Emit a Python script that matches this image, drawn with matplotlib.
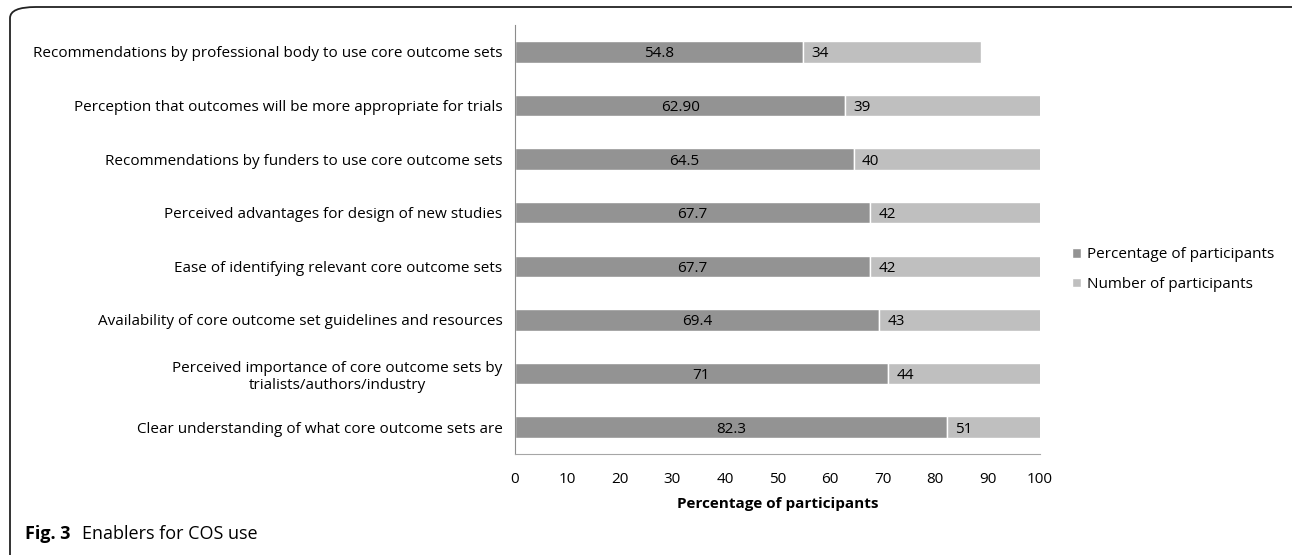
import matplotlib.pyplot as plt
from matplotlib.patches import FancyBboxPatch

plt.rcParams['font.family'] = ['Open Sans', 'DejaVu Sans']

# top to bottom as in the figure
categories = [
    'Recommendations by professional body to use core outcome sets',
    'Perception that outcomes will be more appropriate for trials',
    'Recommendations by funders to use core outcome sets',
    'Perceived advantages for design of new studies',
    'Ease of identifying relevant core outcome sets',
    'Availability of core outcome set guidelines and resources',
    'Perceived importance of core outcome sets by\ntrialists/authors/industry',
    'Clear understanding of what core outcome sets are',
]
percentValues = [54.8, 62.90, 64.5, 67.7, 67.7, 69.4, 71, 82.3]
percentLabels = ['54.8', '62.90', '64.5', '67.7', '67.7', '69.4', '71', '82.3']
numberValues = [34, 39, 40, 42, 42, 43, 44, 51]
xTicks = [0, 10, 20, 30, 40, 50, 60, 70, 80, 90, 100]

darkGrey = '#939393'
lightGrey = '#bfbfbf'
fs = 11

fig = plt.figure(figsize=(12.92, 5.55), dpi=100)
ax = fig.add_axes([515 / 1292, 1 - 454 / 555, 525 / 1292, 429 / 555])

yPos = list(range(len(categories)))
ax.barh(yPos, percentValues, height=0.4, color=darkGrey, edgecolor='white', linewidth=1,
        label='Percentage of participants')
ax.barh(yPos, numberValues, left=percentValues, height=0.4, color=lightGrey, edgecolor='white',
        linewidth=1, label='Number of participants')

for i in range(len(categories)):
    ax.text(percentValues[i] / 2, yPos[i], percentLabels[i], ha='center', va='center_baseline', fontsize=fs)
    ax.text(percentValues[i] + 1.6, yPos[i], str(numberValues[i]), ha='left', va='center_baseline', fontsize=fs)

ax.set_xlim(0, 100)
ax.set_ylim(len(categories) - 0.5, -0.5)
ax.set_yticks(yPos)
ax.set_yticklabels(categories, fontsize=fs, multialignment='center')
ax.set_xticks(xTicks)
ax.tick_params(axis='both', length=0, labelsize=fs)
ax.tick_params(axis='x', pad=13)
ax.tick_params(axis='y', pad=9)
ax.set_xlabel('Percentage of participants', fontsize=fs, fontweight='bold', labelpad=7)

for side in ['top', 'right']:
    ax.spines[side].set_visible(False)
ax.spines['left'].set_color('#8c8c8c')
ax.spines['bottom'].set_color('#a6a6a6')

ax.legend(loc='center left', bbox_to_anchor=(1.035, 0.43), frameon=False, fontsize=fs,
          handlelength=0.6, handleheight=0.6, handletextpad=0.4, labelspacing=0.95)

# rounded frame round the figure
frame = FancyBboxPatch((10 / 1292, -0.05), 1.1, 1 - 7 / 555 + 0.05,
                       boxstyle='round,pad=0,rounding_size=0.02', transform=fig.transFigure,
                       facecolor='none', edgecolor='#222222', linewidth=1.3, clip_on=False)
fig.patches.append(frame)

fig.text(25 / 1292, 1 - 532 / 555, 'Fig. 3', fontsize=13, fontweight='bold', va='center_baseline')
fig.text(82 / 1292, 1 - 532 / 555, 'Enablers for COS use', fontsize=13, va='center_baseline')

fig.savefig('out.png', dpi=100)
